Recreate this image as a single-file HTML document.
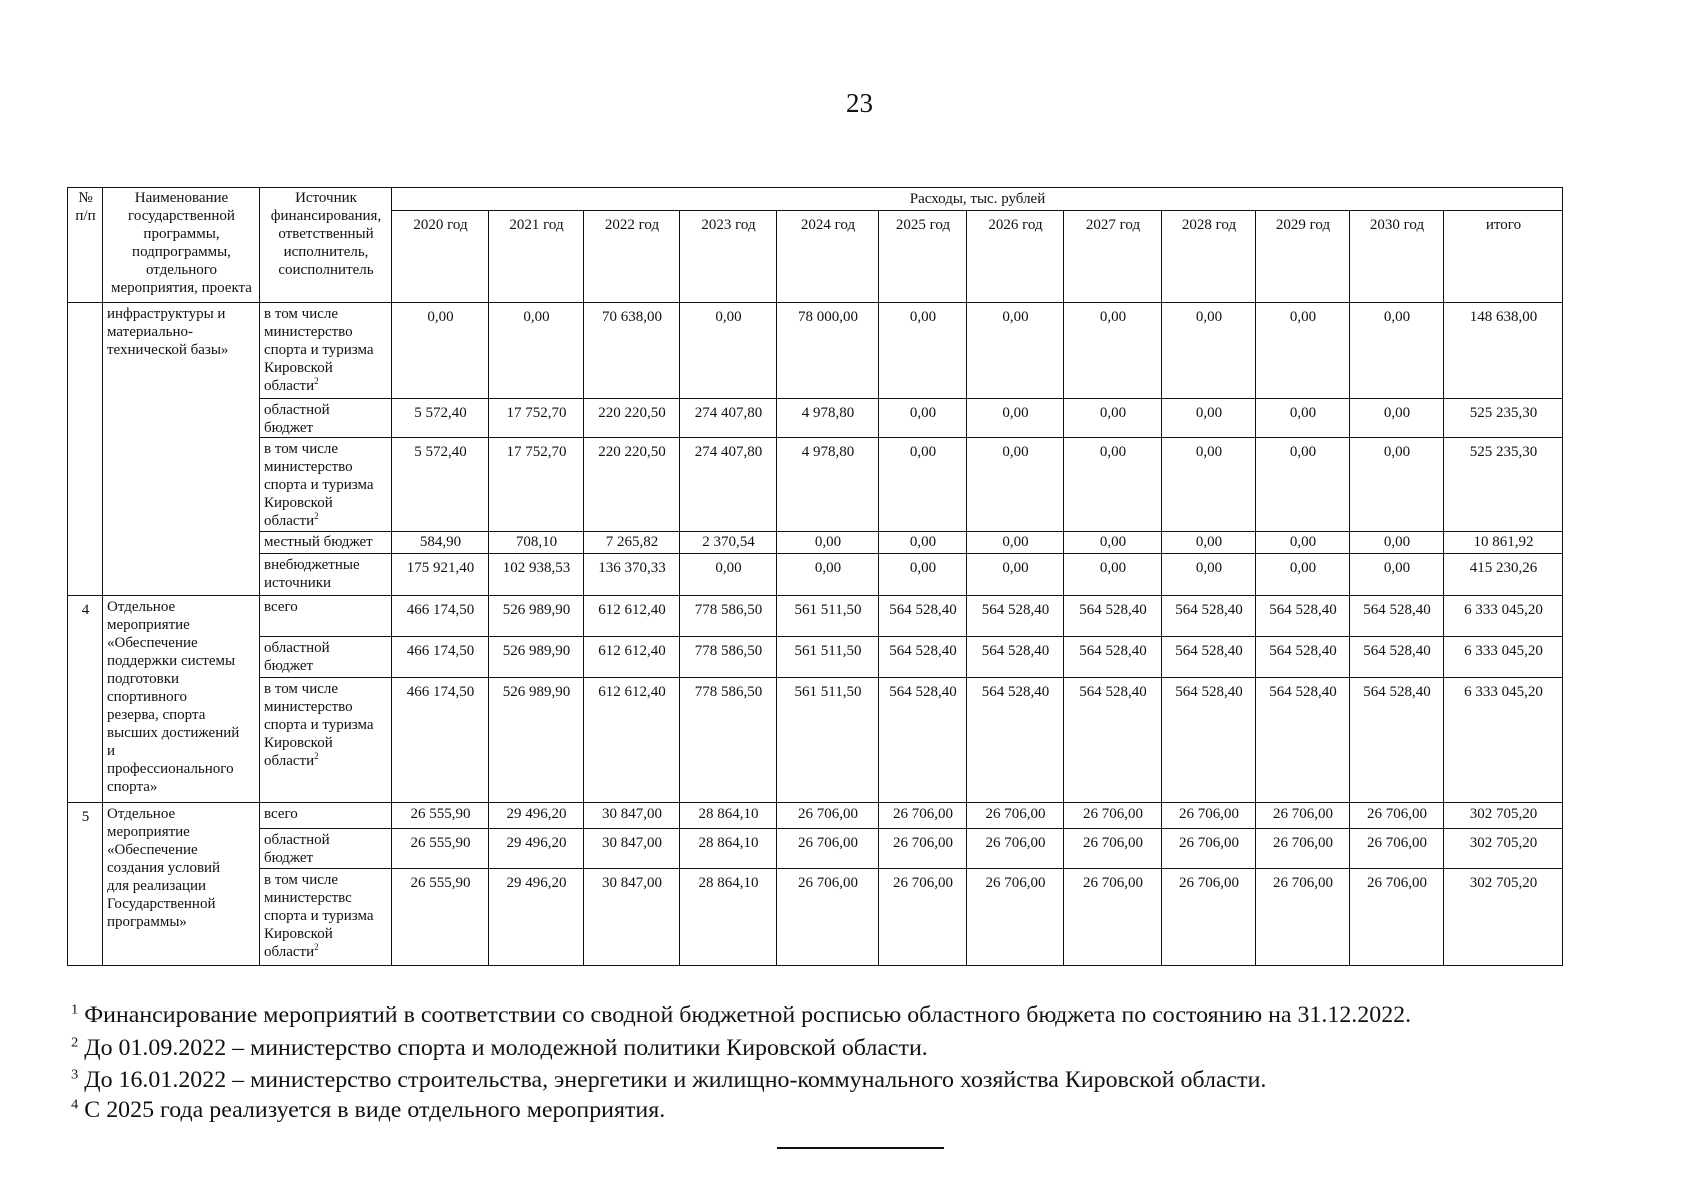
<!DOCTYPE html>
<html><head><meta charset="utf-8">
<style>
body{margin:0;background:#fff;}
#pg{position:relative;width:1701px;height:1200px;overflow:hidden;background:#fff;font-family:"Liberation Serif","Noto Serif CJK SC",serif;color:#111;}
table{position:absolute;left:67px;top:187px;border-collapse:collapse;table-layout:fixed;font-size:15px;line-height:18px;}
td{border:1.5px solid #111;vertical-align:top;padding:1px 3px 0 4px;overflow:hidden;}
td.n{text-align:center;padding-top:5px;}
td.h{text-align:center;}
td.y{text-align:center;padding-top:5px;}
td.s{padding-top:2px;padding-left:4px;}
td.b{white-space:nowrap;}
sup{font-size:9px;line-height:0;}
.fn{position:absolute;left:71px;font-size:23px;white-space:nowrap;transform-origin:left center;transform:scaleX(1.04);}
.fn sup{font-size:14px;}
</style></head><body><div id="pg">
<div style="position:absolute;left:846px;top:88px;font-size:27px;">23</div>
<table>
<colgroup>
<col style="width:35px"><col style="width:157px"><col style="width:132px"><col style="width:97px"><col style="width:95px"><col style="width:96px"><col style="width:97px"><col style="width:102px"><col style="width:88px"><col style="width:97px"><col style="width:98px"><col style="width:94px"><col style="width:94px"><col style="width:94px"><col style="width:119px">
</colgroup>
<tr style="height:23px"><td rowspan="2" class="h">№<br>п/п</td><td rowspan="2" class="h">Наименование государственной программы, подпрограммы, отдельного мероприятия, проекта</td><td rowspan="2" class="h">Источник финансирования, ответственный исполнитель, соисполнитель</td><td colspan="12" class="h" style="padding-top:2px">Расходы, тыс. рублей</td></tr>
<tr style="height:92px"><td class="y">2020 год</td><td class="y">2021 год</td><td class="y">2022 год</td><td class="y">2023 год</td><td class="y">2024 год</td><td class="y">2025 год</td><td class="y">2026 год</td><td class="y">2027 год</td><td class="y">2028 год</td><td class="y">2029 год</td><td class="y">2030 год</td><td class="y">итого</td></tr>
<tr style="height:96px"><td rowspan="5"></td><td rowspan="5" class="s">инфраструктуры и материально-<br>технической базы»</td><td class="s">в том числе министерство спорта и туризма Кировской<br>области<sup>2</sup></td><td class="n">0,00</td><td class="n">0,00</td><td class="n">70 638,00</td><td class="n">0,00</td><td class="n">78 000,00</td><td class="n">0,00</td><td class="n">0,00</td><td class="n">0,00</td><td class="n">0,00</td><td class="n">0,00</td><td class="n">0,00</td><td class="n">148 638,00</td></tr>
<tr style="height:39px"><td class="s">областной<br>бюджет</td><td class="n">5 572,40</td><td class="n">17 752,70</td><td class="n">220 220,50</td><td class="n">274 407,80</td><td class="n">4 978,80</td><td class="n">0,00</td><td class="n">0,00</td><td class="n">0,00</td><td class="n">0,00</td><td class="n">0,00</td><td class="n">0,00</td><td class="n">525 235,30</td></tr>
<tr style="height:94px"><td class="s">в том числе министерство спорта и туризма Кировской<br>области<sup>2</sup></td><td class="n">5 572,40</td><td class="n">17 752,70</td><td class="n">220 220,50</td><td class="n">274 407,80</td><td class="n">4 978,80</td><td class="n">0,00</td><td class="n">0,00</td><td class="n">0,00</td><td class="n">0,00</td><td class="n">0,00</td><td class="n">0,00</td><td class="n">525 235,30</td></tr>
<tr style="height:22px"><td class="s" style="padding-top:1px;white-space:nowrap">местный бюджет</td><td class="n" style="padding-top:1px">584,90</td><td class="n" style="padding-top:1px">708,10</td><td class="n" style="padding-top:1px">7 265,82</td><td class="n" style="padding-top:1px">2 370,54</td><td class="n" style="padding-top:1px">0,00</td><td class="n" style="padding-top:1px">0,00</td><td class="n" style="padding-top:1px">0,00</td><td class="n" style="padding-top:1px">0,00</td><td class="n" style="padding-top:1px">0,00</td><td class="n" style="padding-top:1px">0,00</td><td class="n" style="padding-top:1px">0,00</td><td class="n" style="padding-top:1px">10 861,92</td></tr>
<tr style="height:42px"><td class="s">внебюджетные источники</td><td class="n">175 921,40</td><td class="n">102 938,53</td><td class="n">136 370,33</td><td class="n">0,00</td><td class="n">0,00</td><td class="n">0,00</td><td class="n">0,00</td><td class="n">0,00</td><td class="n">0,00</td><td class="n">0,00</td><td class="n">0,00</td><td class="n">415 230,26</td></tr>
<tr style="height:41px"><td rowspan="3" class="n">4</td><td rowspan="3" class="s b">Отдельное<br>мероприятие<br>«Обеспечение<br>поддержки системы<br>подготовки<br>спортивного<br>резерва, спорта<br>высших достижений<br>и<br>профессионального<br>спорта»</td><td class="s">всего</td><td class="n">466 174,50</td><td class="n">526 989,90</td><td class="n">612 612,40</td><td class="n">778 586,50</td><td class="n">561 511,50</td><td class="n">564 528,40</td><td class="n">564 528,40</td><td class="n">564 528,40</td><td class="n">564 528,40</td><td class="n">564 528,40</td><td class="n">564 528,40</td><td class="n">6 333 045,20</td></tr>
<tr style="height:41px"><td class="s">областной<br>бюджет</td><td class="n">466 174,50</td><td class="n">526 989,90</td><td class="n">612 612,40</td><td class="n">778 586,50</td><td class="n">561 511,50</td><td class="n">564 528,40</td><td class="n">564 528,40</td><td class="n">564 528,40</td><td class="n">564 528,40</td><td class="n">564 528,40</td><td class="n">564 528,40</td><td class="n">6 333 045,20</td></tr>
<tr style="height:125px"><td class="s">в том числе министерство спорта и туризма Кировской<br>области<sup>2</sup></td><td class="n">466 174,50</td><td class="n">526 989,90</td><td class="n">612 612,40</td><td class="n">778 586,50</td><td class="n">561 511,50</td><td class="n">564 528,40</td><td class="n">564 528,40</td><td class="n">564 528,40</td><td class="n">564 528,40</td><td class="n">564 528,40</td><td class="n">564 528,40</td><td class="n">6 333 045,20</td></tr>
<tr style="height:26px"><td rowspan="3" class="n">5</td><td rowspan="3" class="s b">Отдельное<br>мероприятие<br>«Обеспечение<br>создания условий<br>для реализации<br>Государственной<br>программы»</td><td class="s">всего</td><td class="n" style="padding-top:2px">26 555,90</td><td class="n" style="padding-top:2px">29 496,20</td><td class="n" style="padding-top:2px">30 847,00</td><td class="n" style="padding-top:2px">28 864,10</td><td class="n" style="padding-top:2px">26 706,00</td><td class="n" style="padding-top:2px">26 706,00</td><td class="n" style="padding-top:2px">26 706,00</td><td class="n" style="padding-top:2px">26 706,00</td><td class="n" style="padding-top:2px">26 706,00</td><td class="n" style="padding-top:2px">26 706,00</td><td class="n" style="padding-top:2px">26 706,00</td><td class="n" style="padding-top:2px">302 705,20</td></tr>
<tr style="height:40px"><td class="s">областной<br>бюджет</td><td class="n">26 555,90</td><td class="n">29 496,20</td><td class="n">30 847,00</td><td class="n">28 864,10</td><td class="n">26 706,00</td><td class="n">26 706,00</td><td class="n">26 706,00</td><td class="n">26 706,00</td><td class="n">26 706,00</td><td class="n">26 706,00</td><td class="n">26 706,00</td><td class="n">302 705,20</td></tr>
<tr style="height:97px"><td class="s">в том числе министерствс спорта и туризма Кировской<br>области<sup>2</sup></td><td class="n">26 555,90</td><td class="n">29 496,20</td><td class="n">30 847,00</td><td class="n">28 864,10</td><td class="n">26 706,00</td><td class="n">26 706,00</td><td class="n">26 706,00</td><td class="n">26 706,00</td><td class="n">26 706,00</td><td class="n">26 706,00</td><td class="n">26 706,00</td><td class="n">302 705,20</td></tr>
</table>
<div class="fn" style="top:1002px;"><sup>1</sup> Финансирование мероприятий в соответствии со сводной бюджетной росписью областного бюджета по состоянию на 31.12.2022.</div>
<div class="fn" style="top:1035px;"><sup>2</sup> До 01.09.2022 – министерство спорта и молодежной политики Кировской области.</div>
<div class="fn" style="top:1067px;"><sup>3</sup> До 16.01.2022 – министерство строительства, энергетики и жилищно-коммунального хозяйства Кировской области.</div>
<div class="fn" style="top:1097px;"><sup>4</sup> С 2025 года реализуется в виде отдельного мероприятия.</div>
<div style="position:absolute;left:777px;top:1147px;width:167px;height:2px;background:#111;"></div>
</div></body></html>
